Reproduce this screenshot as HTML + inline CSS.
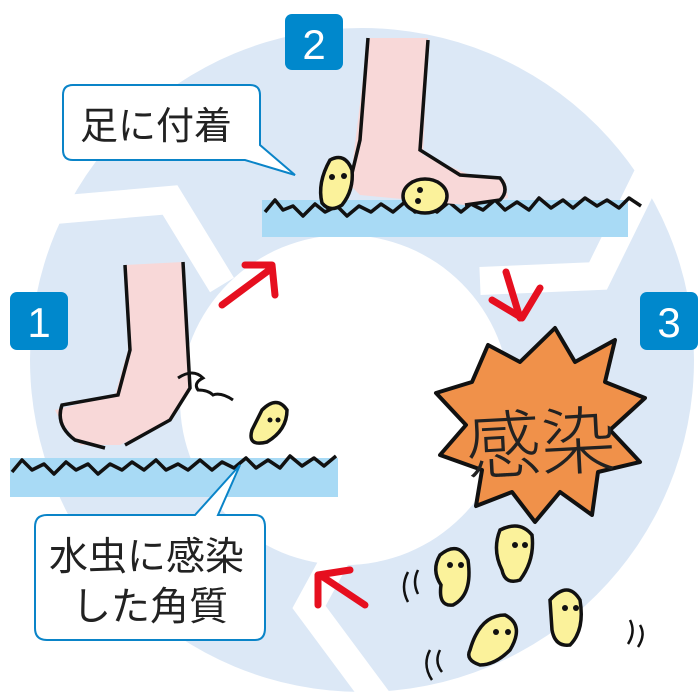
<!DOCTYPE html>
<html><head><meta charset="utf-8"><style>
body{margin:0;background:#fff}
svg{display:block}
text{font-family:"Liberation Sans","Noto Sans CJK JP",sans-serif}
</style></head><body>
<svg width="700" height="700" viewBox="0 0 700 700" xmlns="http://www.w3.org/2000/svg">
<circle cx="362" cy="360" r="332" fill="#dce8f6"/>
<circle cx="345" cy="400" r="165" fill="#fff"/>
<g fill="none" stroke="#fff" stroke-width="28" stroke-linejoin="miter">
<polyline points="20,213 170,200 222,285"/>
<polyline points="660,150 598,276 480,281"/>
<polyline points="362,510 309,607 378,700"/>
</g>
<!-- ground top -->
<path d="M262,200 L628,200 L628,237 L262,237 Z" fill="#a8daf5"/>
<path d="M265,212 l10,-12 l8,10 l10,-4 l10,10 l12,-12 l10,8 l12,-6 l10,10 l12,-10 l12,6 l10,-8 l12,8 l12,-10 l10,10 l12,-6 l10,6 l12,-10 l12,10 l10,-8 l12,6 l12,-10 l10,10 l12,-8 l12,8 l10,-12 l12,10 l12,-8 l10,8 l12,-10 l12,8 l10,-6 l12,8 l10,-10 l12,8" fill="none" stroke="#111" stroke-width="3.5" stroke-linejoin="round"/>
<!-- foot 2 -->
<path d="M368,38 L428,38 L423,155 L470,175 L505,180 L508,198 L465,205 L360,195 L350,185 Z" fill="#f8d8d8"/>
<path d="M368,38 L360,140 L348,190 M428,40 L420,150 L460,175 L500,178 Q510,190 500,200 L465,205" fill="none" stroke="#111" stroke-width="3.5"/>
<!-- ground left -->
<path d="M10,458 L338,458 L338,497 L10,497 Z" fill="#a8daf5"/>
<path d="M12,472 l10,-12 l10,10 l12,-6 l10,10 l12,-12 l10,8 l12,-6 l10,10 l12,-10 l12,6 l10,-8 l12,8 l12,-10 l10,10 l12,-6 l10,6 l12,-10 l12,10 l10,-8 l12,6 l12,-10 l10,10 l12,-8 l12,8 l10,-12 l12,10 l12,-8 l10,8 l12,-10" fill="none" stroke="#111" stroke-width="3.5" stroke-linejoin="round"/>
<!-- foot 1 -->
<path d="M125,265 L183,262 L190,390 L170,420 L120,445 L80,445 L60,420 L55,410 L115,395 L128,350 Z" fill="#f8d8d8"/>
<path d="M125,265 L130,350 L118,395 L62,405 Q55,425 75,440 L105,448 M183,262 L190,388 L170,420 L125,445" fill="none" stroke="#111" stroke-width="3.5"/>
<path d="M178,378 q15,-10 25,0 q-10,5 -5,12 q10,0 15,5 q8,-3 20,5" fill="none" stroke="#111" stroke-width="3"/>
<!-- fungi -->
<g fill="#fbf29b" stroke="#111" stroke-width="3.5">
<path d="M330,160 q15,-8 22,10 q2,20 -10,35 q-12,8 -20,-2 q-5,-20 8,-43z"/>
<ellipse cx="425" cy="196" rx="22" ry="17"/>
<path d="M262,410 q15,-15 25,0 q0,20 -20,32 q-20,5 -15,-12 z"/>
<path d="M440,555 q18,-15 28,5 q5,35 -15,45 q-15,2 -12,-20 q-10,-15 -1,-30z"/>
<path d="M500,530 q20,-10 32,5 q3,25 -12,45 q-15,5 -18,-10 q-10,-20 -2,-40z"/>
<path d="M550,600 q18,-20 30,0 q5,30 -10,45 q-15,2 -18,-15 z"/>
<path d="M470,650 q10,-35 35,-35 q20,10 5,35 q-15,15 -30,15 q-15,-5 -10,-15z"/>
</g>
<g fill="#111"><circle cx="332" cy="177" r="3"/><circle cx="344" cy="176" r="3"/><circle cx="420" cy="190" r="3"/><circle cx="418" cy="201" r="3"/><circle cx="270" cy="420" r="2.5"/><circle cx="278" cy="420" r="2.5"/><circle cx="450" cy="565" r="3"/><circle cx="461" cy="565" r="3"/><circle cx="515" cy="545" r="3"/><circle cx="525" cy="545" r="3"/><circle cx="565" cy="608" r="3"/><circle cx="576" cy="608" r="3"/><circle cx="496" cy="632" r="3"/><circle cx="508" cy="632" r="3"/></g>
<g fill="none" stroke="#111" stroke-width="2.5"><path d="M408,572 q-8,15 0,30 M418,570 q-6,12 0,24 M430,650 q-8,15 2,30 M440,650 q-6,12 2,22 M630,620 q6,12 -2,24 M640,625 q6,10 -2,22"/></g>
<!-- starburst -->
<polygon points="488,345 520,362 555,328 575,362 615,340 605,382 645,398 610,430 640,462 598,472 592,515 560,492 535,522 512,492 476,506 482,470 440,455 466,425 436,393 472,382" fill="#f0914a" stroke="#111" stroke-width="4" stroke-linejoin="round"/>
<text x="465" y="470" font-size="74" fill="#222" font-weight="300" textLength="150" lengthAdjust="spacingAndGlyphs" transform="rotate(-3 540 430)">感染</text>
<!-- arrows -->
<g fill="none" stroke="#e60f1f" stroke-width="7" stroke-linecap="round" stroke-linejoin="round">
<path d="M222,305 L272,268 M245,265 L272,265 L275,295"/>
<path d="M506,272 L520,318 M492,300 L522,318 L540,288"/>
<path d="M365,605 L320,575 M318,605 L318,575 L350,570"/>
</g>
<!-- badges -->
<g fill="#0088cc"><rect x="285" y="14" width="58" height="56" rx="7"/><rect x="10" y="292" width="58" height="58" rx="7"/><rect x="640" y="292" width="58" height="58" rx="7"/></g>
<g fill="#fff" font-size="42" text-anchor="middle"><text x="314" y="59">2</text><text x="39" y="337">1</text><text x="669" y="337">3</text></g>
<!-- callouts -->
<path d="M73,85 L250,85 Q260,85 260,95 L260,145 L295,175 L245,160 L73,160 Q63,160 63,150 L63,95 Q63,85 73,85 Z" fill="#fff" stroke="#0a84c8" stroke-width="2"/>
<text x="80" y="139" font-size="38" fill="#222">足に付着</text>
<path d="M47,515 L195,515 L240,465 L218,515 L255,515 Q265,515 265,527 L265,628 Q265,640 255,640 L47,640 Q35,640 35,628 L35,527 Q35,515 47,515 Z" fill="#fff" stroke="#0a84c8" stroke-width="2"/>
<text x="49" y="570" font-size="39" fill="#222">水虫に感染</text>
<text x="72" y="620" font-size="39" fill="#222">した角質</text>
</svg>
</body></html>
